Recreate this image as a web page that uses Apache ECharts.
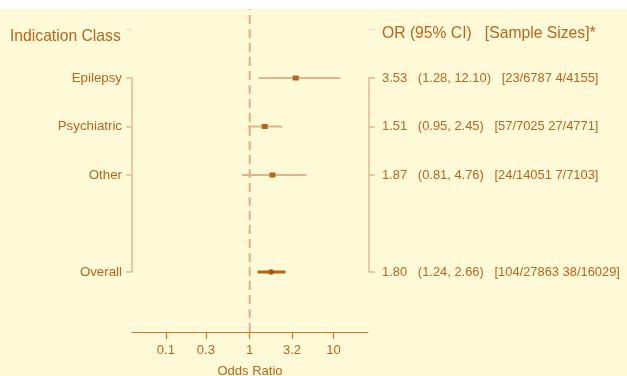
<!DOCTYPE html>
<html>
<head>
<meta charset="utf-8">
<script src="https://cdn.jsdelivr.net/npm/echarts@6/dist/echarts.min.js"></script>
<style>
html, body { margin: 0; padding: 0; background: #fff; }
#chart { position: absolute; left: 0; top: 9px; width: 627px; height: 367px; }
</style>
</head>
<body>
<div id="chart"></div>
<script>
var groups = ['Epilepsy', 'Psychiatric', 'Other', 'Overall'];
var rowPos = [0, 1, 2, 4];
var oddsRatio = [3.53, 1.51, 1.87, 1.80];
var ciLow = [1.28, 0.95, 0.81, 1.24];
var ciHigh = [12.10, 2.45, 4.76, 2.66];
var sampleSizes = ['23/6787 4/4155', '57/7025 27/4771', '24/14051 7/7103', '104/27863 38/16029'];
var xTicks = [0.1, 0.3, 1, 3.2, 10];
var xTickLabels = ['0.1', '0.3', '1', '3.2', '10'];
var xRange = [0.0394, 25.8];
var refLine = [1];

var textColor = '#b8651e';
var font = '"Liberation Sans", Arial, sans-serif';

function lg(v) { return Math.log10(v); }

function rowText(i) {
	return oddsRatio[i].toFixed(2) + '   (' + ciLow[i].toFixed(2) + ', ' + ciHigh[i].toFixed(2) + ')   [' + sampleSizes[i] + ']';
}

var chartDom = document.getElementById('chart');
var myChart = echarts.init(chartDom, null, { renderer: 'canvas' });

var option = {
	backgroundColor: '#fef9d6',
	animation: false,
	textStyle: { fontFamily: font },
	title: [{
		text: 'Indication Class',
		left: 10,
		top: 20,
		padding: 0,
		textStyle: { color: textColor, fontSize: 15.7, fontWeight: 'normal', fontFamily: font }
	}, {
		text: 'OR (95% CI)   [Sample Sizes]*',
		left: 382,
		top: 17,
		padding: 0,
		textStyle: { color: textColor, fontSize: 15.7, fontWeight: 'normal', fontFamily: font }
	}],
	grid: [
		{ left: 132, right: 259, top: 69, bottom: 104, outerBoundsMode: 'none', containLabel: false },
		{ left: 132, right: 259, top: 0, bottom: 44, outerBoundsMode: 'none', containLabel: false }
	],
	xAxis: [{
		gridIndex: 0,
		type: 'value',
		min: lg(xRange[0]),
		max: lg(xRange[1]),
		show: false
	}, {
		gridIndex: 1,
		type: 'value',
		min: lg(xRange[0]),
		max: lg(xRange[1]),
		position: 'bottom',
		name: 'Odds Ratio',
		nameLocation: 'middle',
		nameGap: 33,
		nameTextStyle: { color: textColor, fontSize: 13, fontFamily: font },
		splitLine: { show: false },
		axisLine: { onZero: false, lineStyle: { color: '#c87a2e', width: 1.2 } },
		axisTick: {
			length: 7,
			lineStyle: { color: '#c87a2e', width: 1.2 },
			customValues: xTicks.map(lg)
		},
		axisLabel: {
			color: textColor,
			fontSize: 13,
			margin: 12,
			customValues: xTicks.map(lg),
			formatter: function (v) {
				for (var i = 0; i < xTicks.length; i++) {
					if (Math.abs(lg(xTicks[i]) - v) < 1e-6) return xTickLabels[i];
				}
				return '';
			}
		}
	}],
	yAxis: [{
		gridIndex: 0,
		type: 'value',
		inverse: true,
		min: 0,
		max: 4,
		position: 'left',
		splitLine: { show: false },
		axisLine: { show: true, onZero: false, lineStyle: { color: '#e2b98f', width: 1.5 } },
		axisTick: { show: true, length: 6, lineStyle: { color: '#e2b98f', width: 1.5 }, customValues: rowPos },
		axisLabel: {
			color: textColor,
			fontSize: 13.3,
			margin: 10,
			customValues: rowPos,
			formatter: function (v) {
				var i = rowPos.indexOf(v);
				return i < 0 ? '' : groups[i];
			}
		}
	}, {
		gridIndex: 0,
		type: 'value',
		inverse: true,
		min: 0,
		max: 4,
		position: 'right',
		offset: 1,
		splitLine: { show: false },
		axisLine: { show: true, onZero: false, lineStyle: { color: '#e2b98f', width: 1.5 } },
		axisTick: { show: true, length: 6, lineStyle: { color: '#e2b98f', width: 1.5 }, customValues: rowPos },
		axisLabel: {
			color: textColor,
			fontSize: 12.9,
			margin: 13,
			align: 'left',
			customValues: rowPos,
			formatter: function (v) {
				var i = rowPos.indexOf(v);
				return i < 0 ? '' : rowText(i);
			}
		}
	}, {
		gridIndex: 1,
		type: 'value',
		min: 0,
		max: 1,
		show: false
	}],
	series: [{
		// reference line at OR = 1
		type: 'custom',
		xAxisIndex: 1,
		yAxisIndex: 2,
		silent: true,
		data: refLine.map(function (v) { return [lg(v), 0]; }),
		encode: { x: 0, y: 1 },
		renderItem: function (params, api) {
			var a = api.coord([api.value(0), 0]);
			var b = api.coord([api.value(0), 1]);
			return {
				type: 'line',
				shape: { x1: a[0], y1: a[1], x2: b[0], y2: b[1] },
				style: { stroke: '#e3ab86', lineWidth: 2, lineDash: [9, 5] }
			};
		}
	}, {
		type: 'custom',
		xAxisIndex: 0,
		yAxisIndex: 0,
		silent: true,
		clip: false,
		data: rowPos.map(function (p, i) {
			return [lg(ciLow[i]), lg(ciHigh[i]), lg(oddsRatio[i]), p, i];
		}),
		encode: { x: [0, 1, 2], y: 3 },
		renderItem: function (params, api) {
			var y = api.value(3);
			var lo = api.coord([api.value(0), y]);
			var hi = api.coord([api.value(1), y]);
			var mid = api.coord([api.value(2), y]);
			var isOverall = groups[api.value(4)] === 'Overall';
			if (isOverall) {
				return {
					type: 'group',
					children: [{
						type: 'line',
						shape: { x1: lo[0], y1: lo[1], x2: hi[0], y2: hi[1] },
						style: { stroke: '#b8620f', lineWidth: 3 }
					}, {
						type: 'circle',
						shape: { cx: mid[0], cy: mid[1], r: 2.8 },
						style: { fill: '#a85a12' }
					}]
				};
			}
			return {
				type: 'group',
				children: [{
					type: 'line',
					shape: { x1: lo[0], y1: lo[1], x2: hi[0], y2: hi[1] },
					style: { stroke: '#dfb488', lineWidth: 2 }
				}, {
					type: 'rect',
					shape: { x: mid[0] - 3, y: mid[1] - 2.5, width: 6, height: 5 },
					style: { fill: '#b5661c' }
				}]
			};
		}
	}]
};

myChart.setOption(option);

// faint header ticks
var hy = myChart.convertToPixel({ yAxisIndex: 0 }, -1);
var xl = myChart.convertToPixel({ xAxisIndex: 0 }, lg(xRange[0]));
var xr = myChart.convertToPixel({ xAxisIndex: 0 }, lg(xRange[1])) + 1;
myChart.setOption({
	graphic: [{
		type: 'line', silent: true,
		shape: { x1: xl - 6, y1: hy, x2: xl, y2: hy },
		style: { stroke: '#e4e0d2', lineWidth: 1.5 }
	}, {
		type: 'line', silent: true,
		shape: { x1: xr, y1: hy, x2: xr + 6, y2: hy },
		style: { stroke: '#e4e0d2', lineWidth: 1.5 }
	}]
});
</script>
</body>
</html>
